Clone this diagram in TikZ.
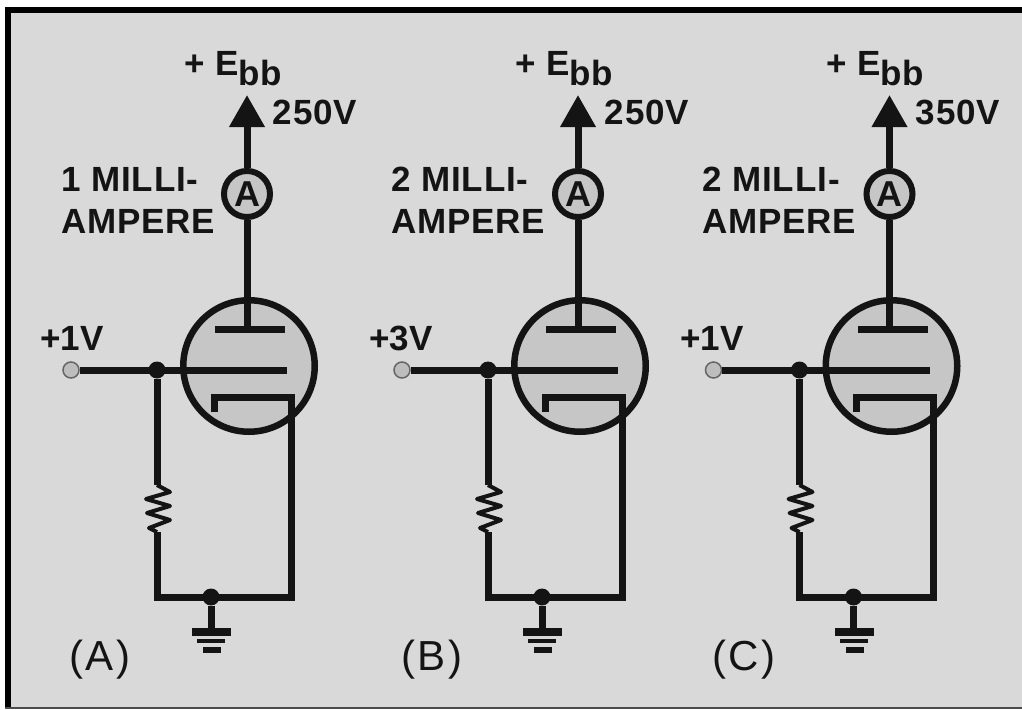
\documentclass[tikz,border=0pt]{standalone}
\usepackage{fontspec}
\setmainfont{Liberation Sans}
\usetikzlibrary{arrows.meta}
\definecolor{panel}{HTML}{D9D9D9}
\definecolor{bulb}{HTML}{C6C6C6}
\definecolor{ink}{HTML}{141414}
\tikzset{
  wire/.style={draw=ink,line width=7pt},
  thinwire/.style={draw=ink,line width=4pt,line join=round},
  tubebody/.style={circle,draw=ink,fill=bulb,line width=6.5pt,minimum size=131.5pt,inner sep=0pt},
  meter/.style={circle,draw=ink,fill=bulb,line width=6pt,minimum size=46pt,inner sep=0pt,font=\fontsize{36}{36}\selectfont\bfseries,text=ink},
  term/.style={circle,draw=black!60,fill=bulb!115,line width=1.5pt,minimum size=16pt,inner sep=0pt},
  joint/.style={circle,fill=ink,minimum size=17pt,inner sep=0pt},
  lbl/.style={anchor=base west,inner sep=0pt,text=ink,font=\fontsize{35}{35}\selectfont\bfseries\addfontfeature{LetterSpace=2.5}},
  gridlbl/.style={anchor=base west,inner sep=0pt,text=ink,font=\fontsize{35}{35}\selectfont\bfseries},
  caplbl/.style={anchor=base west,inner sep=0pt,text=ink,font=\fontsize{42}{42}\selectfont\addfontfeature{LetterSpace=6}},
  bar/.style={fill=ink,draw=none}
}
\newcommand{\stage}[7]{%
 % 1 id, 2 shift, 3 Ebb x, 4 volt x, 5 milli x, 6 volts, 7 milli
 \begin{scope}[xshift=#2pt]
  \node[tubebody] (tube#1) at (249,366) {};
  \node[meter] (amm#1) at (247,194) {A};
  \coordinate (tip#1) at (247,95);
  \coordinate (plate#1) at (247,329);
  \coordinate (plateL#1) at (215,329);
  \coordinate (plateR#1) at (285,329);
  \node[term] (in#1) at (71,370) {};
  \node[joint] (jn#1) at (157,370) {};
  \coordinate (gridEnd#1) at (287,370);
  \coordinate (catL#1) at (214,397);
  \coordinate (catT#1) at (214,412);
  \coordinate (catR#1) at (291,397);
  \coordinate (cornerR#1) at (291,597);
  \coordinate (cornerL#1) at (157,597);
  \coordinate (resT#1) at (157,485);
  \coordinate (resB#1) at (157,532);
  \node[joint] (gnd#1) at (211,597) {};
  \coordinate (gndEnd#1) at (211,632);
  \draw[wire,-{Triangle[length=32pt,width=34pt]}] (amm#1.north) -- (tip#1);
  \draw[wire] (amm#1.south) -- (plate#1);
  \draw[wire] (plateL#1) -- (plateR#1);
  \draw[wire] (in#1.east) -- (gridEnd#1);
  \draw[wire] (catT#1) -- (catL#1);
  \draw[wire,line cap=rect] (catL#1) -- (catR#1);
  \draw[wire,line join=miter] (catR#1) -- (cornerR#1) -- (cornerL#1) -- (resB#1);
  \draw[wire] (jn#1) -- (resT#1);
  \draw[wire] (gnd#1) -- (gndEnd#1);
  \draw[thinwire] (resT#1) -- ++(13,7) -- ++(-24,7) -- ++(24,7) -- ++(-23,7) -- ++(23,7) -- ++(-21,8) -- (resB#1);
  \fill[bar] (192,628) rectangle (231,636);
  \fill[bar] (197,639) rectangle (225,643);
  \fill[bar] (203,647) rectangle (221,653);
 \end{scope}
 \node[lbl] (ebb#1) at (#3,75) {+ E\raisebox{-10pt}{bb}};
 \node[lbl] (volt#1) at (#4,124) {#6};
 \node[lbl] (mA#1) at (#5,191) {#7 MILLI-};
 \node[lbl] (mB#1) at (#5,233) {AMPERE};
}
\begin{document}
\begin{tikzpicture}[x=1pt,y=-1pt]
\useasboundingbox (0,0) rectangle (1022,709);
\fill[white] (0,0) rectangle (1022,709);
\fill[black] (5,7) rectangle (1022,707);
\fill[panel] (11,13) rectangle (1022,707);
\fill[black!70] (5,707) rectangle (1022,709);
\stage{A}{0}{184}{272.5}{61}{250V}{1}
\stage{B}{331}{515}{604.5}{391}{250V}{2}
\stage{C}{642.5}{826}{915.5}{702}{350V}{2}
\node[gridlbl] (gA) at (40,350) {+1V};
\node[gridlbl] (gB) at (369,350) {+3V};
\node[gridlbl] (gC) at (680,350) {+1V};
\node[caplbl] (capA) at (69,670) {(A)};
\node[caplbl] (capB) at (401,670) {(B)};
\node[caplbl] (capC) at (712,670) {(C)};
\end{tikzpicture}
\end{document}
